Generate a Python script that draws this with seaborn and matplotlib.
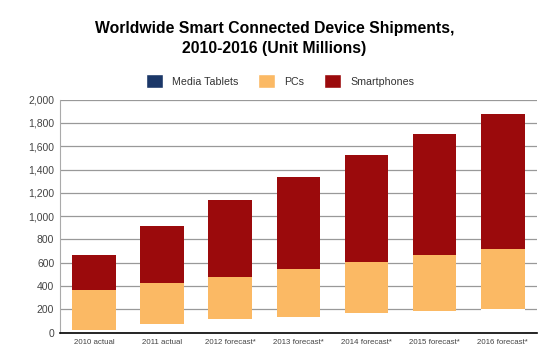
import numpy as np
import pandas as pd
import matplotlib
matplotlib.use("Agg")
import matplotlib.pyplot as plt
import seaborn as sns
from matplotlib.patches import Patch

categories = ["2010 actual", "2011 actual", "2012 forecast*", "2013 forecast*",
              "2014 forecast*", "2015 forecast*", "2016 forecast*"]
media_tablets = [22, 72, 112, 137, 166, 183, 203]
pcs = [347, 354, 366, 407, 438, 482, 516]
smartphones = [301, 492, 660, 796, 925, 1041, 1155]

sns.set_theme(style="white")
plt.rcParams['font.family'] = ['Liberation Sans', 'DejaVu Sans']

df = pd.DataFrame({"cat": categories, "tab": media_tablets, "pc": pcs, "sp": smartphones})
df["c_tab"] = df["tab"]
df["c_pc"] = df["tab"] + df["pc"]
df["c_sp"] = df["c_pc"] + df["sp"]

fig = plt.figure(figsize=(5.49, 3.58), dpi=100)
ax = fig.add_axes([0.109, 0.0712, 0.869, 0.6503])

col_tab_legend = "#1B3768"
col_pc = "#FBB964"
col_sp = "#9B0A0C"

sns.barplot(data=df, x="cat", y="c_sp", color=col_sp, width=0.64, ax=ax, saturation=1, linewidth=0)
sns.barplot(data=df, x="cat", y="c_pc", color=col_pc, width=0.64, ax=ax, saturation=1, linewidth=0)
sns.barplot(data=df, x="cat", y="c_tab", color="white", width=0.64, ax=ax, saturation=1, linewidth=0)

ax.set_ylim(0, 2000)
ax.set_xlim(-0.5, 6.5)
ax.set_yticks(np.arange(0, 2001, 200))
ax.set_yticklabels([f"{v:,}" for v in range(0, 2001, 200)], fontsize=7.5, color="#444444")
ax.tick_params(axis="x", labelsize=5.7, colors="#444444", length=0, pad=5)
ax.tick_params(axis="y", length=0, pad=4)
ax.set_xlabel("")
ax.set_ylabel("")
ax.yaxis.grid(True, color="#999999", linewidth=0.9)
ax.set_axisbelow(True)
for s in ["top", "right"]:
    ax.spines[s].set_visible(False)
ax.spines["left"].set_color("#aaaaaa")
ax.spines["left"].set_linewidth(0.8)
ax.spines["bottom"].set_color("black")
ax.spines["bottom"].set_linewidth(1.2)

fig.text(0.5, 1 - 28 / 358, "Worldwide Smart Connected Device Shipments,", ha="center", va="center",
         fontsize=11.3, fontweight="bold", color="black")
fig.text(0.5, 1 - 48 / 358, "2010-2016 (Unit Millions)", ha="center", va="center",
         fontsize=11.3, fontweight="bold", color="black")

handles = [Patch(facecolor=col_tab_legend, label="Media Tablets"),
           Patch(facecolor=col_pc, label="PCs"),
           Patch(facecolor=col_sp, label="Smartphones")]
fig.legend(handles=handles, loc="center", bbox_to_anchor=(280 / 549, 1 - 81 / 358), ncol=3,
           frameon=False, fontsize=7.7, handlelength=1.55, handleheight=1.55,
           columnspacing=1.9, handletextpad=0.85, labelcolor="#333333")

fig.savefig("out.png", dpi=100)
